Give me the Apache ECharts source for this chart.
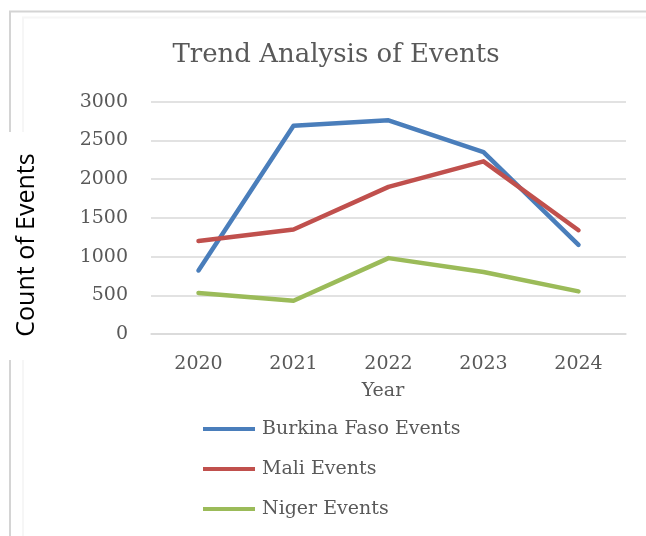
<!DOCTYPE html>
<html>
<head>
<meta charset="utf-8">
<script src="https://cdn.jsdelivr.net/npm/echarts@6/dist/echarts.min.js"></script>
<style>
  html, body { margin: 0; padding: 0; background: #ffffff; }
  #chart { width: 646px; height: 536px; }
</style>
</head>
<body>
<div id="chart"></div>
<script>
// Yearly event counts per country
const years = ['2020', '2021', '2022', '2023', '2024'];
const burkinaFaso = [820, 2690, 2760, 2350, 1150];
const mali = [1200, 1350, 1900, 2230, 1340];
const niger = [530, 430, 980, 800, 550];
const yTicks = { min: 0, max: 3000, step: 500 };

const serif = 'DejaVu Serif';
const grey = '#595959';

const chart = echarts.init(document.getElementById('chart'), null, { renderer: 'canvas' });

function lineSeries(name, data, color) {
  return {
    name: name,
    type: 'line',
    data: data,
    symbol: 'none',
    lineStyle: { color: color, width: 4.5, cap: 'round', join: 'round' },
    itemStyle: { color: color },
    animation: false
  };
}

chart.setOption({
  backgroundColor: '#ffffff',
  animation: false,
  title: {
    text: 'Trend Analysis of Events',
    left: 331,
    textAlign: 'center',
    top: 37,
    textStyle: { fontFamily: serif, fontSize: 26, fontWeight: 'normal', color: grey }
  },
  grid: { left: 151, right: 20, top: 101.7, bottom: 202, containLabel: false },
  xAxis: {
    type: 'category',
    data: years,
    boundaryGap: true,
    axisLine: { show: true, lineStyle: { color: '#d9d9d9', width: 1.5 } },
    axisTick: { show: false },
    axisLabel: { fontFamily: serif, fontSize: 19, color: grey, margin: 21 }
  },
  yAxis: {
    type: 'value',
    min: yTicks.min,
    max: yTicks.max,
    interval: yTicks.step,
    axisLine: { show: false },
    axisTick: { show: false },
    splitLine: { lineStyle: { color: '#d9d9d9', width: 1.5 } },
    axisLabel: { fontFamily: serif, fontSize: 19, color: grey, margin: 23, formatter: (v) => String(v) }
  },
  legend: {
    orient: 'vertical',
    left: 203,
    top: 419,
    padding: 0,
    itemWidth: 52,
    itemHeight: 4,
    itemGap: 20,
    icon: 'rect',
    textStyle: { fontFamily: serif, fontSize: 19, color: grey, lineHeight: 20, padding: [0, 0, 0, 2] },
    data: ['Burkina Faso Events', 'Mali Events', 'Niger Events']
  },
  graphic: [
    // chart-area frame
    { type: 'line', z: 1, shape: { x1: 9, y1: 11.5, x2: 646, y2: 11.5 }, style: { stroke: '#d4d4d4', lineWidth: 2 } },
    { type: 'line', z: 1, shape: { x1: 10, y1: 11, x2: 10, y2: 536 }, style: { stroke: '#d4d4d4', lineWidth: 2 } },
    { type: 'line', z: 1, shape: { x1: 22, y1: 17.5, x2: 646, y2: 17.5 }, style: { stroke: '#f6f6f6', lineWidth: 2 } },
    { type: 'line', z: 1, shape: { x1: 23, y1: 17, x2: 23, y2: 536 }, style: { stroke: '#f6f6f6', lineWidth: 2 } },
    // y-axis title on its own white box
    { type: 'rect', z: 5, shape: { x: 0, y: 132, width: 55, height: 228 }, style: { fill: '#ffffff' } },
    {
      type: 'text', z: 6, x: 27, y: 245, rotation: Math.PI / 2,
      style: { text: 'Count of Events', fontFamily: 'Open Sans', fontSize: 25, fill: '#000000', align: 'center', verticalAlign: 'middle' }
    },
    // x-axis title
    {
      type: 'text', z: 6, x: 383, y: 391,
      style: { text: 'Year', fontFamily: serif, fontSize: 19, fill: grey, align: 'center', verticalAlign: 'middle' }
    }
  ],
  series: [
    lineSeries('Burkina Faso Events', burkinaFaso, '#4a7ebb'),
    lineSeries('Mali Events', mali, '#c0504d'),
    lineSeries('Niger Events', niger, '#9bbb59')
  ]
});
</script>
</body>
</html>
